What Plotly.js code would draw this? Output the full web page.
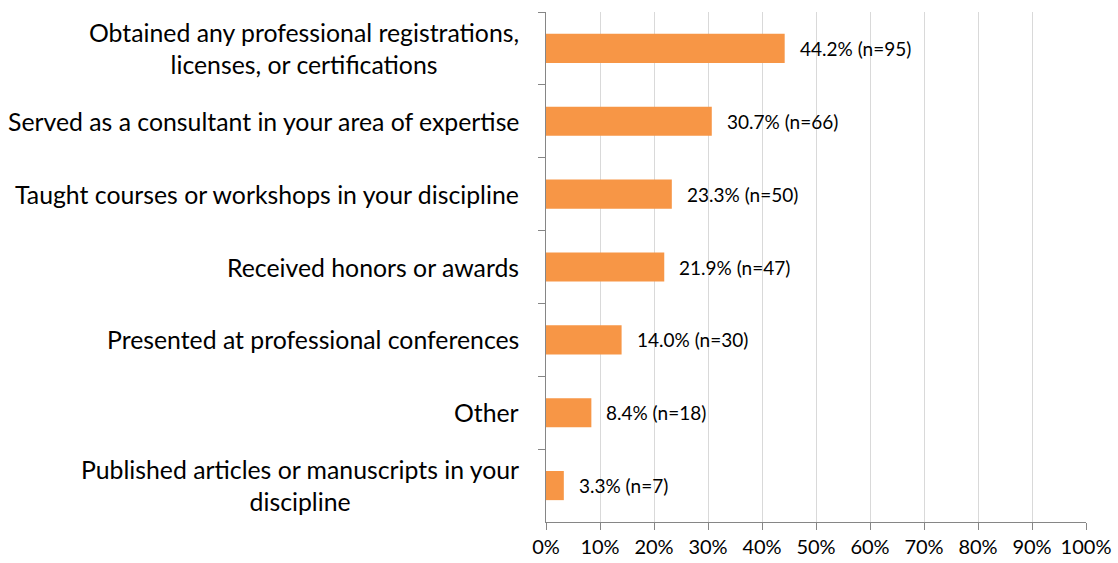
<!DOCTYPE html>
<html>
<head>
<meta charset="utf-8">
<script src="https://cdn.plot.ly/plotly-3.0.1.min.js"></script>
<style>
html,body{margin:0;padding:0;background:#fff;}
#chart{width:1118px;height:563px;}
</style>
</head>
<body>
<div id="chart"></div>
<script>
var categories = [
  "Obtained any professional registrations,<br>licenses, or certifications",
  "Served as a consultant in your area of expertise",
  "Taught courses or workshops in your discipline",
  "Received honors or awards",
  "Presented at professional conferences",
  "Other",
  "Published articles or manuscripts in your<br>discipline"
];
var percents = [44.2, 30.7, 23.3, 21.9, 14.0, 8.4, 3.3];
var counts = [95, 66, 50, 47, 30, 18, 7];
var xTickVals = [0, 10, 20, 30, 40, 50, 60, 70, 80, 90, 100];
var xTickText = ["0%", "10%", "20%", "30%", "40%", "50%", "60%", "70%", "80%", "90%", "100%"];

var FONT = "Lato, 'Open Sans', sans-serif";

var trace = {
  type: "bar",
  orientation: "h",
  x: percents,
  y: categories,
  marker: {color: "#F79646"},
  hoverinfo: "none"
};

var annotations = [];
categories.forEach(function(c, i) {
  annotations.push({
    xref: "paper", yref: "y", x: 0, y: c,
    xanchor: "right", yanchor: "middle", xshift: -25,
    text: c, showarrow: false, align: "center",
    font: {family: FONT, size: 24.8, color: "#000"}
  });
  annotations.push({
    xref: "x", yref: "y", x: percents[i], y: c,
    xanchor: "left", yanchor: "middle", xshift: 13,
    text: percents[i].toFixed(1) + "% (n=" + counts[i] + ")",
    showarrow: false,
    font: {family: FONT, size: 19, color: "#000"}
  });
});

var layout = {
  width: 1118, height: 563,
  margin: {l: 546, r: 31.5, t: 12, b: 41.3, pad: 0},
  paper_bgcolor: "#fff", plot_bgcolor: "#fff",
  showlegend: false,
  bargap: 0.6,
  font: {family: FONT, color: "#000"},
  xaxis: {
    range: [0, 100], tickvals: xTickVals, ticktext: xTickText,
    showgrid: true, gridcolor: "#D9D9D9", gridwidth: 1,
    showline: true, linecolor: "#868686", linewidth: 1,
    ticks: "outside", ticklen: 7, tickcolor: "#868686",
    tickfont: {family: FONT, size: 20, color: "#000"},
    zeroline: false, fixedrange: true
  },
  yaxis: {
    type: "category", autorange: "reversed",
    showticklabels: false, tickson: "boundaries",
    ticks: "outside", ticklen: 7, tickcolor: "#868686",
    showline: true, linecolor: "#868686", linewidth: 1,
    showgrid: false, zeroline: false, fixedrange: true
  },
  annotations: annotations
};

Plotly.newPlot("chart", [trace], layout, {displayModeBar: false, staticPlot: true});
</script>
</body>
</html>
